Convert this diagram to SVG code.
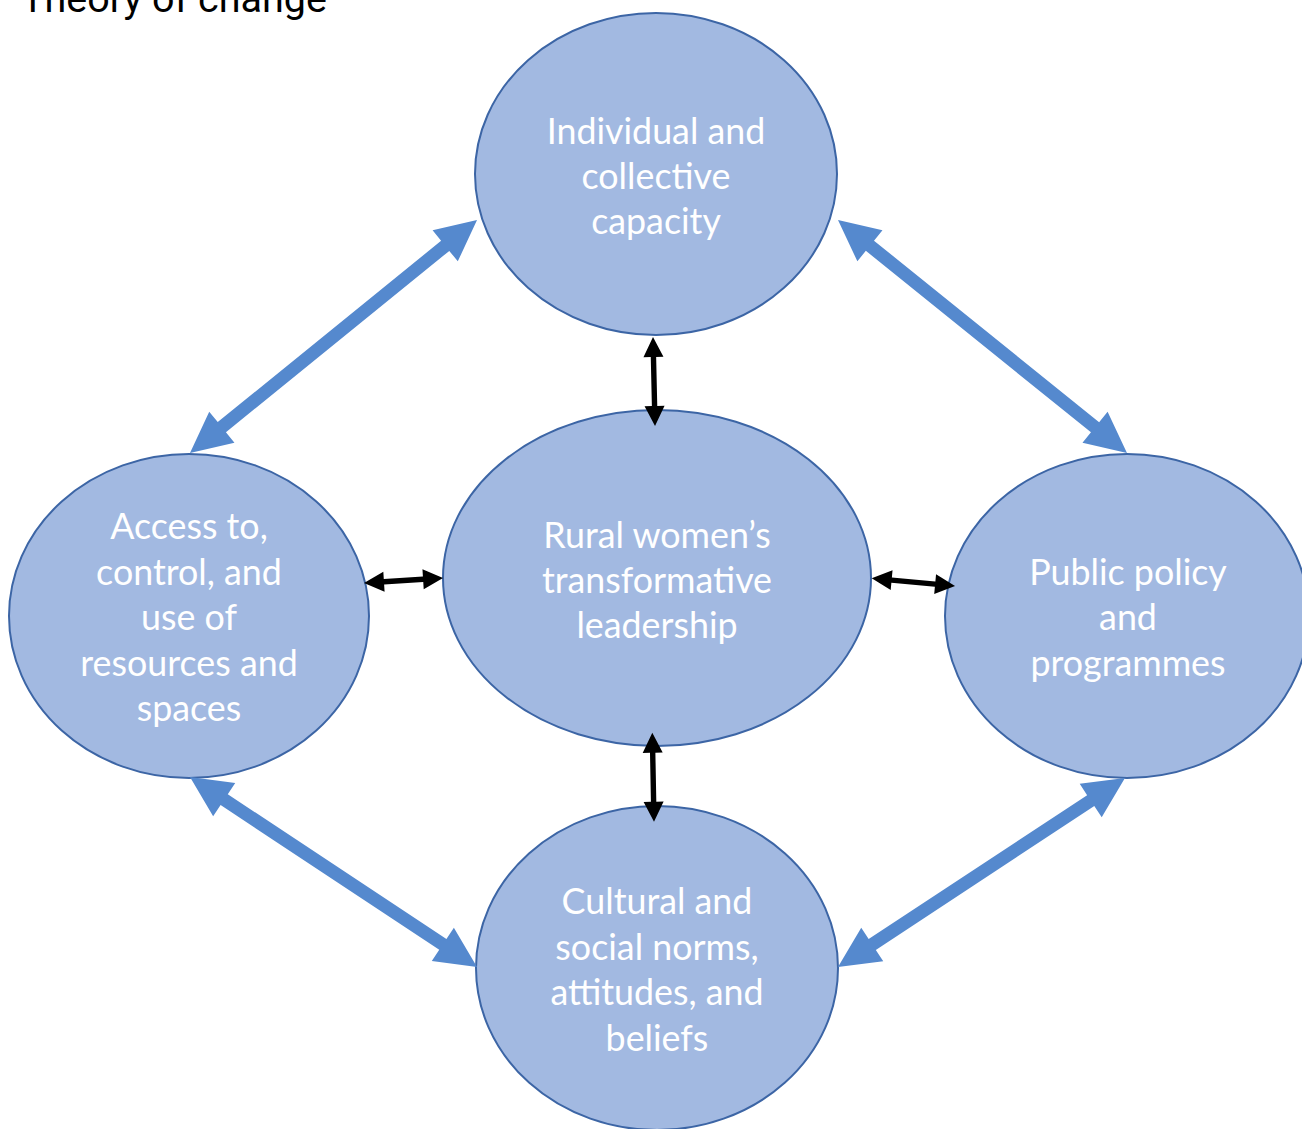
<svg xmlns="http://www.w3.org/2000/svg" width="1302" height="1129" viewBox="0 0 1302 1129">
  <style>
    .node { fill: #A2B9E1; stroke: #3C65A5; stroke-width: 2; }
    .label { fill: #FFFFFF; font-family: Lato, "Liberation Sans", sans-serif; font-size: 35.8px; text-anchor: middle; }
    .title { fill: #000000; font-family: Roboto, "Liberation Sans", sans-serif; font-size: 39.5px; }
    .big { fill: #5589CE; }
    .small { fill: #000000; }
  </style>

  <rect x="0" y="0" width="1302" height="1129" fill="#FFFFFF"/>

  <text class="title" x="21" y="12">Theory of change</text>

  <!-- nodes -->
  <g id="node-capacity">
    <ellipse class="node" cx="656" cy="174" rx="181" ry="161"/>
    <text class="label" x="656" y="144">Individual and</text>
    <text class="label" x="656" y="189">collective</text>
    <text class="label" x="656" y="234">capacity</text>
  </g>
  <g id="node-leadership">
    <ellipse class="node" cx="657" cy="578" rx="214" ry="168"/>
    <text class="label" x="657" y="548">Rural women’s</text>
    <text class="label" x="657" y="593">transformative</text>
    <text class="label" x="657" y="638">leadership</text>
  </g>
  <g id="node-resources">
    <ellipse class="node" cx="189" cy="616" rx="180" ry="162"/>
    <text class="label" x="189" y="539">Access to,</text>
    <text class="label" x="189" y="585">control, and</text>
    <text class="label" x="189" y="630">use of</text>
    <text class="label" x="189" y="676">resources and</text>
    <text class="label" x="189" y="721">spaces</text>
  </g>
  <g id="node-policy">
    <ellipse class="node" cx="1127" cy="616" rx="182" ry="162"/>
    <text class="label" x="1128" y="585">Public policy</text>
    <text class="label" x="1128" y="630">and</text>
    <text class="label" x="1128" y="676">programmes</text>
  </g>
  <g id="node-norms">
    <ellipse class="node" cx="657" cy="968" rx="181" ry="162"/>
    <text class="label" x="657" y="914">Cultural and</text>
    <text class="label" x="657" y="960">social norms,</text>
    <text class="label" x="657" y="1005">attitudes, and</text>
    <text class="label" x="657" y="1051">beliefs</text>
  </g>

  <!-- connectors: double-headed block arrows, drawn along the x axis then placed -->
  <g id="connectors">
    <!-- outer ring -->
    <path class="big" transform="translate(190 453) rotate(-39.07)"
          d="M0,0 L41,-20 L41,-6.5 L328.7,-6.5 L328.7,-20 L369.7,0 L328.7,20 L328.7,6.5 L41,6.5 L41,20 Z"/>
    <path class="big" transform="translate(838 220) rotate(38.88)"
          d="M0,0 L41,-20 L41,-6.5 L330.2,-6.5 L330.2,-20 L371.2,0 L330.2,20 L330.2,6.5 L41,6.5 L41,20 Z"/>
    <path class="big" transform="translate(190 777) rotate(33.50)"
          d="M0,0 L41,-20 L41,-6.5 L303.2,-6.5 L303.2,-20 L344.2,0 L303.2,20 L303.2,6.5 L41,6.5 L41,20 Z"/>
    <path class="big" transform="translate(838 967) rotate(-33.37)"
          d="M0,0 L41,-20 L41,-6.5 L302.6,-6.5 L302.6,-20 L343.6,0 L302.6,20 L302.6,6.5 L41,6.5 L41,20 Z"/>
    <!-- links to the centre -->
    <path class="small" transform="translate(653 337) rotate(88.7)"
          d="M0,0 L20,-10 L20,-2.7 L69,-2.7 L69,-10 L89,0 L69,10 L69,2.7 L20,2.7 L20,10 Z"/>
    <path class="small" transform="translate(652.3 732.7) rotate(88.9)"
          d="M0,0 L20,-10 L20,-2.7 L69,-2.7 L69,-10 L89,0 L69,10 L69,2.7 L20,2.7 L20,10 Z"/>
    <path class="small" transform="translate(364 583) rotate(-3.62)"
          d="M0,0 L20,-10 L20,-2.7 L59.2,-2.7 L59.2,-10 L79.2,0 L59.2,10 L59.2,2.7 L20,2.7 L20,10 Z"/>
    <path class="small" transform="translate(871.7 578.3) rotate(5.28)"
          d="M0,0 L20,-10 L20,-2.7 L63.7,-2.7 L63.7,-10 L83.7,0 L63.7,10 L63.7,2.7 L20,2.7 L20,10 Z"/>
  </g>
</svg>
